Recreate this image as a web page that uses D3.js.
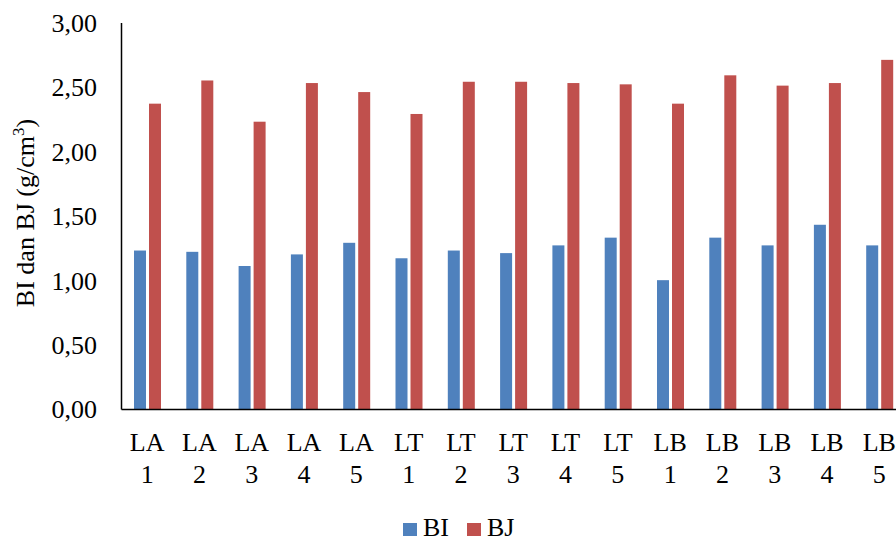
<!DOCTYPE html>
<html>
<head>
<meta charset="utf-8">
<script src="https://cdn.jsdelivr.net/npm/d3@7"></script>
<style>
  body { margin: 0; background: #fff; overflow: hidden; }
  svg { display: block; font-family: "Liberation Serif", "Times New Roman", serif; }
  .axis path { stroke: #000; stroke-width: 1.5px; }
  .axis text { font-family: "Liberation Serif", "Times New Roman", serif; font-size: 26px; fill: #000; }
</style>
</head>
<body>
<div id="chart"></div>
<script>
// samples
const categories = ["LA 1", "LA 2", "LA 3", "LA 4", "LA 5",
                    "LT 1", "LT 2", "LT 3", "LT 4", "LT 5",
                    "LB 1", "LB 2", "LB 3", "LB 4", "LB 5"];
const seriesNames = ["BI", "BJ"];
const biValues = [1.23, 1.22, 1.11, 1.20, 1.29, 1.17, 1.23, 1.21, 1.27, 1.33, 1.00, 1.33, 1.27, 1.43, 1.27];
const bjValues = [2.37, 2.55, 2.23, 2.53, 2.46, 2.29, 2.54, 2.54, 2.53, 2.52, 2.37, 2.59, 2.51, 2.53, 2.71];
const yTicks = [0, 0.5, 1, 1.5, 2, 2.5, 3];
const colors = {BI: "#4F81BD", BJ: "#C0504D"};

const width = 896, height = 542;
const plotLeft = 121, plotTop = 22.5, plotBottom = 409;
const step = 52.3;

const svg = d3.select("#chart").append("svg")
    .attr("width", width)
    .attr("height", height);

const x = d3.scaleBand()
    .domain(categories)
    .range([plotLeft, plotLeft + step * categories.length]);

const xSub = d3.scaleBand()
    .domain(seriesNames)
    .range([13, 40])
    .paddingInner(0.2);

const y = d3.scaleLinear()
    .domain([0, 3])
    .range([plotBottom, plotTop]);

const fmt = d => d.toFixed(2).replace(".", ",");

// bars
const rows = categories.map((c, i) => ({cat: c, BI: biValues[i], BJ: bjValues[i]}));

svg.append("g").selectAll("g")
  .data(rows)
  .enter().append("g")
    .attr("transform", d => "translate(" + x(d.cat) + ",0)")
  .selectAll("rect")
  .data(d => seriesNames.map(s => ({key: s, value: d[s]})))
  .enter().append("rect")
    .attr("x", d => xSub(d.key))
    .attr("width", xSub.bandwidth())
    .attr("y", d => y(d.value))
    .attr("height", d => y(0) - y(d.value))
    .attr("fill", d => colors[d.key]);

// y axis
const yAxis = svg.append("g")
    .attr("class", "axis")
    .attr("transform", "translate(" + plotLeft + ",0)")
    .call(d3.axisLeft(y).tickValues(yTicks).tickFormat(fmt).tickSize(0).tickSizeOuter(0).tickPadding(24));
yAxis.selectAll("text").attr("dy", "0.34em");

// x axis
const xAxis = svg.append("g")
    .attr("class", "axis")
    .attr("transform", "translate(0," + plotBottom + ")")
    .call(d3.axisBottom(x).tickSize(0).tickSizeOuter(0).tickFormat(""));
xAxis.selectAll(".tick").each(function(d) {
  const parts = d.split(" ");
  const t = d3.select(this).append("text")
      .attr("text-anchor", "middle")
      .attr("fill", "#000");
  t.append("tspan").attr("x", 0).attr("y", 42).text(parts[0]);
  t.append("tspan").attr("x", 0).attr("y", 74).text(parts[1]);
});

// y title
const title = svg.append("text")
    .attr("transform", "translate(34," + 213 + ") rotate(-90)")
    .attr("text-anchor", "middle")
    .attr("font-size", 26)
    .attr("fill", "#000");
title.append("tspan").text("BI dan BJ (g/cm");
title.append("tspan").attr("font-size", 17).attr("dy", -10).text("3");
title.append("tspan").attr("dy", 10).text(")");

// legend
const legendX = [403, 467];
const legend = svg.append("g").selectAll("g")
  .data(seriesNames)
  .enter().append("g")
    .attr("transform", (d, i) => "translate(" + legendX[i] + ",523)");
legend.append("rect")
    .attr("width", 14)
    .attr("height", 13)
    .attr("fill", d => colors[d]);
legend.append("text")
    .attr("x", 20)
    .attr("y", 13)
    .attr("font-size", 26)
    .attr("fill", "#000")
    .text(d => d);
</script>
</body>
</html>
